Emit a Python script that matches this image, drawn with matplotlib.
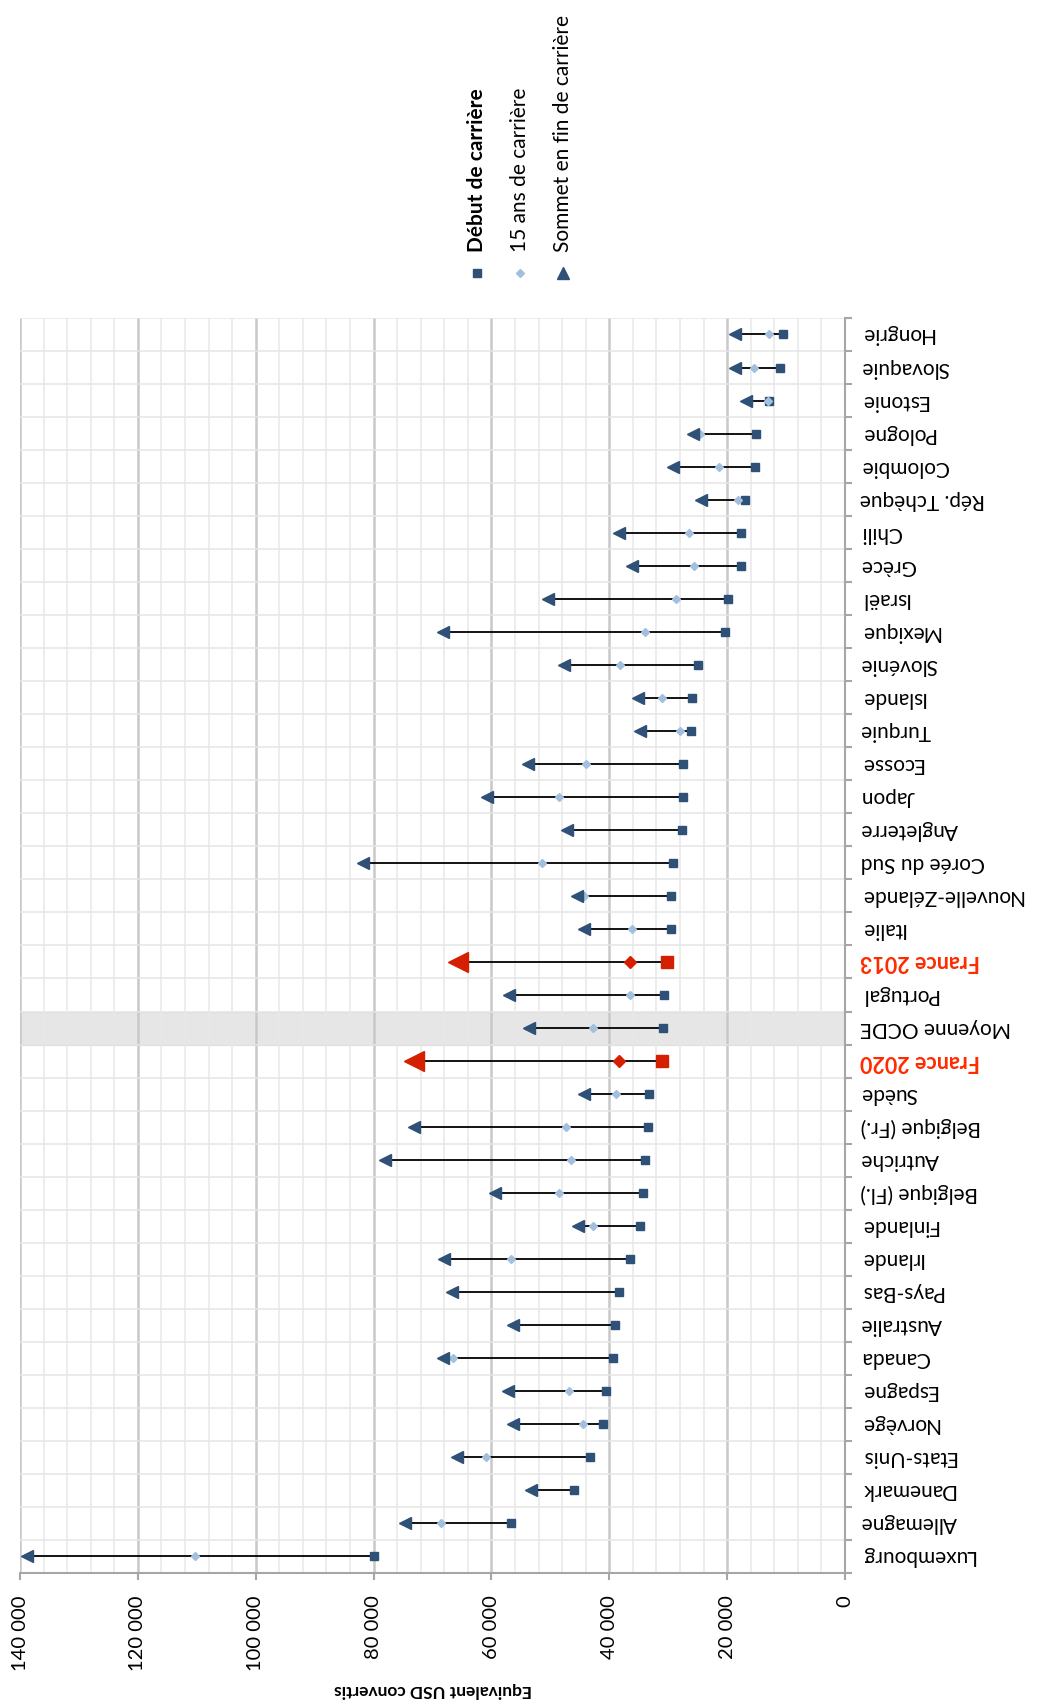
import numpy as np
import matplotlib
matplotlib.use("Agg")
import matplotlib.pyplot as plt
from matplotlib.lines import Line2D
from matplotlib.ticker import MultipleLocator, FuncFormatter

plt.rcParams['font.family'] = ['Lato', 'DejaVu Sans']

# order of the original chart: Luxembourg first (bottom) ... Hongrie last (top)
pays = ['Luxembourg', 'Allemagne', 'Danemark', 'Etats-Unis', 'Norvège', 'Espagne',
        'Canada', 'Australie', 'Pays-Bas', 'Irlande', 'Finlande', 'Belgique (Fl.)',
        'Autriche', 'Belgique (Fr.)', 'Suède', 'France 2020', 'Moyenne OCDE',
        'Portugal', 'France 2013', 'Italie', 'Nouvelle-Zélande', 'Corée du Sud',
        'Angleterre', 'Japon', 'Ecosse', 'Turquie', 'Islande', 'Slovénie', 'Mexique',
        'Israël', 'Grèce', 'Chili', 'Rép. Tchèque', 'Colombie', 'Pologne', 'Estonie',
        'Slovaquie', 'Hongrie']

debut = [79900, 56750, 46040, 43320, 41120, 40610,
         39420, 39080, 38400, 36530, 34830, 34320,
         33980, 33470, 33300, 31040, 30920,
         30750, 30240, 29560, 29560, 29220,
         27690, 27520, 27520, 26160, 25990, 24980, 20390,
         19930, 17720, 17720, 17040, 15290, 15120, 12970,
         11090, 10530]

ans15 = [110350, 68640, np.nan, 60940, 44460, 46770,
         66600, np.nan, np.nan, 56630, 42760, 48590,
         46550, 47280, 38790, 38340, 42760,
         36530, 36480, 36140, 44290, 51430,
         np.nan, 48470, 43890, 28030, 31090, 38170, 33980,
         28660, 25710, 26450, 18130, 21410, 24640, 13140,
         15510, 12910]

sommet = [138840, 74590, 53230, 65920, 56290, 57260,
          68300, 56360, 66720, 68080, 45240, 59470,
          78150, 73220, 44220, 73170, 53640,
          57030, 65700, 44290, 45530, 81770,
          47110, 60700, 53800, 34830, 35170, 47690, 68250,
          50340, 36190, 38350, 24410, 29170, 25770, 16820,
          18640, 18640]

france = ['France 2020', 'France 2013']
moyenne = 'Moyenne OCDE'

bleu = '#2F5077'
bleu_clair = '#A3BFE0'
rouge = '#D42000'

y = np.arange(len(pays))
debut = np.array(debut, dtype=float)
ans15 = np.array(ans15, dtype=float)
sommet = np.array(sommet, dtype=float)
is_fr = np.array([p in france for p in pays])

fig = plt.figure(figsize=(10.39, 17.04), dpi=100)
ax = fig.add_axes([0.0193, 0.0769, 0.7940, 0.7365])

ax.set_xlim(140000, 0)
ax.set_ylim(-0.5, len(pays) - 0.5)

# grid
ax.set_axisbelow(True)
ax.xaxis.set_major_locator(MultipleLocator(20000))
ax.xaxis.set_minor_locator(MultipleLocator(4000))
ax.grid(axis='x', which='major', color='#C8C8C8', lw=1.8)
ax.grid(axis='x', which='minor', color='#E8E8E8', lw=1.1)
ax.set_yticks(y)
ax.set_yticks(np.arange(-0.5, len(pays)), minor=True)
ax.grid(axis='y', which='minor', color='#E6E6E6', lw=1.1)

# OCDE band
i_m = pays.index(moyenne)
ax.axhspan(i_m - 0.5, i_m + 0.5, color='#E6E6E6', ec='#D0D0D0', lw=0.8, zorder=0.1)

# lines and markers
ax.hlines(y, debut, sommet, color='black', lw=1.3, zorder=2)
n = ~is_fr
ax.plot(debut[n], y[n], ls='none', marker='s', ms=5.6, color=bleu, zorder=3)
ax.plot(ans15[n], y[n], ls='none', marker='D', ms=3.6, color=bleu_clair, zorder=3)
ax.plot(sommet[n], y[n], ls='none', marker='<', ms=8.5, color=bleu, zorder=3)
ax.plot(debut[is_fr], y[is_fr], ls='none', marker='s', ms=8.6, color=rouge, zorder=3)
ax.plot(ans15[is_fr], y[is_fr], ls='none', marker='D', ms=6.5, color=rouge, zorder=3)
ax.plot(sommet[is_fr], y[is_fr], ls='none', marker='<', ms=14, color=rouge, zorder=3)

# axes styling
for s in ['top', 'left']:
    ax.spines[s].set_visible(False)
for s in ['bottom', 'right']:
    ax.spines[s].set_color('#A6A6A6')
    ax.spines[s].set_linewidth(1.5)

ax.xaxis.set_major_formatter(FuncFormatter(lambda v, p: f"{int(v):,}".replace(',', ' ')))
ax.tick_params(axis='x', which='major', length=5, width=1.5, color='#A6A6A6',
               pad=11, labelsize=14.5, labelrotation=90)
ax.tick_params(axis='x', which='minor', length=0)

ax.yaxis.tick_right()
ax.set_yticklabels(pays)
ax.tick_params(axis='y', which='major', length=0, pad=11, labelsize=15)
ax.tick_params(axis='y', which='minor', length=5, width=1.5, color='#A6A6A6',
               right=True, left=False)
for lab in ax.get_yticklabels():
    lab.set_rotation(180)
    lab.set_ha('left')
    lab.set_va('center')
    if lab.get_text() in france:
        lab.set_color('#FF2A00')
        lab.set_fontweight('bold')
        lab.set_fontsize(15.5)

fig.text(0.417, 0.0085, 'Equivalent USD convertis', rotation=180, ha='center',
         va='center', fontsize=12.5, fontweight='bold')

# legend (rotated)
leg_x = [476.7 / 1039, 520 / 1039, 563 / 1039]
leg_lab = ['Début de carrière', '15 ans de carrière', 'Sommet en fin de carrière']
leg_mk = [('s', 5.6, bleu), ('D', 3.6, bleu_clair), ('^', 8.5, bleu)]
for xx, lab, (m, ms, c) in zip(leg_x, leg_lab, leg_mk):
    fig.add_artist(Line2D([xx], [1 - 273 / 1704], marker=m, ms=ms, color=c,
                          ls='none', transform=fig.transFigure))
    fig.text(xx, 1 - 252 / 1704, lab, rotation=90, ha='center', va='bottom',
             fontsize=15, fontweight='bold' if lab.startswith('Début') else 'normal')

fig.savefig('out.png', dpi=100)
